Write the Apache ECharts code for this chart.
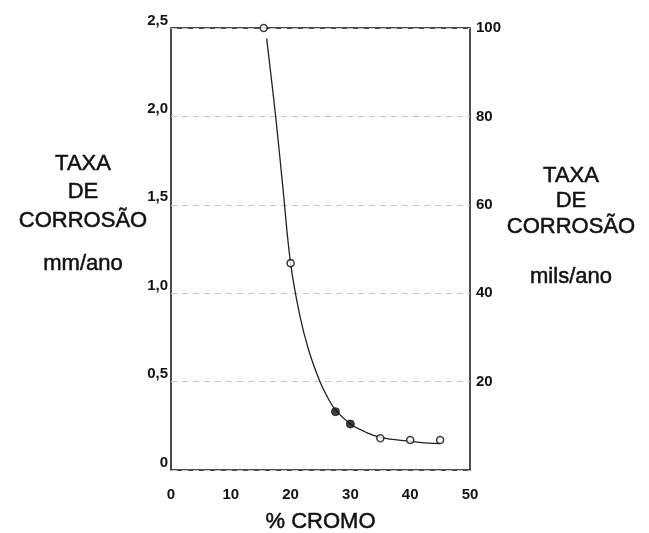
<!DOCTYPE html>
<html>
<head>
<meta charset="utf-8">
<script src="https://cdn.jsdelivr.net/npm/echarts@6/dist/echarts.min.js"></script>
<style>
  html, body { margin: 0; padding: 0; background: #fff; }
  #main { width: 649px; height: 533px; }
</style>
</head>
<body>
<div id="main"></div>
<script>
// % cromo x taxa de corrosao (mm/ano)
var openPts = [[15.5, 2.5], [20, 1.17], [35, 0.18], [40, 0.17], [45, 0.17]]
var filledPts = [[27.5, 0.33], [30, 0.26]]
// curva tracada a mao
var curve = [
  [16, 2.44], [17.5, 2.0], [18.7, 1.6], [20, 1.17], [21.5, 0.88],
  [23, 0.68], [24.9, 0.5], [26.2, 0.41], [27.5, 0.34], [30, 0.26],
  [32.5, 0.215], [35, 0.185], [40, 0.162], [43, 0.152], [45, 0.15]
]

var chart = echarts.init(document.getElementById('main'))
var fam = 'Liberation Sans, Arial, sans-serif'
var labelFont = { color: '#111', fontWeight: 'bold', fontSize: 15, fontFamily: fam }
var titleFont = {
  fill: '#111', fontSize: 22, fontFamily: fam, align: 'center', verticalAlign: 'middle',
  stroke: '#111', lineWidth: 0.5
}

var option = {
  animation: false,
  grid: {
    left: 171,
    right: 179,
    top: 28,
    bottom: 63,
    outerBoundsMode: 'none',
    containLabel: false,
    show: true,
    borderColor: '#111',
    borderWidth: 1.5,
    backgroundColor: 'transparent'
  },
  xAxis: {
    type: 'value',
    min: 0,
    max: 50,
    interval: 10,
    axisLine: { show: false },
    axisTick: { show: false },
    splitLine: { show: false },
    axisLabel: Object.assign({ margin: 17 }, labelFont),
    name: '% CROMO',
    nameLocation: 'middle',
    nameGap: 41,
    nameTextStyle: { color: '#111', fontSize: 22, fontFamily: fam, textBorderColor: '#111', textBorderWidth: 0.5 }
  },
  yAxis: [
    {
      type: 'value',
      min: 0,
      max: 2.5,
      interval: 0.5,
      axisLine: { show: false },
      axisTick: { show: false },
      splitLine: { show: true, lineStyle: { color: '#c4c4c4', type: [6, 5], width: 1 } },
      axisLabel: Object.assign({
        margin: 3,
        verticalAlign: 'bottom',
        formatter: function (v) { return v === 0 ? '0' : v.toFixed(1).replace('.', ',') }
      }, labelFont)
    },
    {
      type: 'value',
      min: 0,
      max: 100,
      interval: 20,
      axisLine: { show: false },
      axisTick: { show: false },
      splitLine: { show: false },
      axisLabel: Object.assign({ margin: 6, showMinLabel: false }, labelFont)
    }
  ],
  graphic: [
    { type: 'text', x: 83, y: 164, style: Object.assign({ text: 'TAXA' }, titleFont) },
    { type: 'text', x: 83, y: 192, style: Object.assign({ text: 'DE' }, titleFont) },
    { type: 'text', x: 83, y: 221, style: Object.assign({ text: 'CORROSÃO' }, titleFont) },
    { type: 'text', x: 83, y: 264, style: Object.assign({ text: 'mm/ano' }, titleFont) },
    { type: 'text', x: 571, y: 176, style: Object.assign({ text: 'TAXA' }, titleFont) },
    { type: 'text', x: 571, y: 201, style: Object.assign({ text: 'DE' }, titleFont) },
    { type: 'text', x: 571, y: 227, style: Object.assign({ text: 'CORROSÃO' }, titleFont) },
    { type: 'text', x: 571, y: 277, style: Object.assign({ text: 'mils/ano' }, titleFont) }
  ],
  series: [
    {
      type: 'line',
      data: curve,
      smooth: 0.4,
      showSymbol: false,
      lineStyle: { color: '#222', width: 1.3 },
      z: 2
    },
    {
      type: 'scatter',
      data: openPts,
      symbol: 'circle',
      symbolSize: 7,
      itemStyle: { color: '#fff', borderColor: '#111', borderWidth: 1.6 },
      z: 3
    },
    {
      type: 'scatter',
      data: filledPts,
      symbol: 'circle',
      symbolSize: 8,
      itemStyle: { color: '#111', borderColor: '#111', borderWidth: 1 },
      z: 3
    }
  ]
}

chart.setOption(option)
</script>
</body>
</html>
